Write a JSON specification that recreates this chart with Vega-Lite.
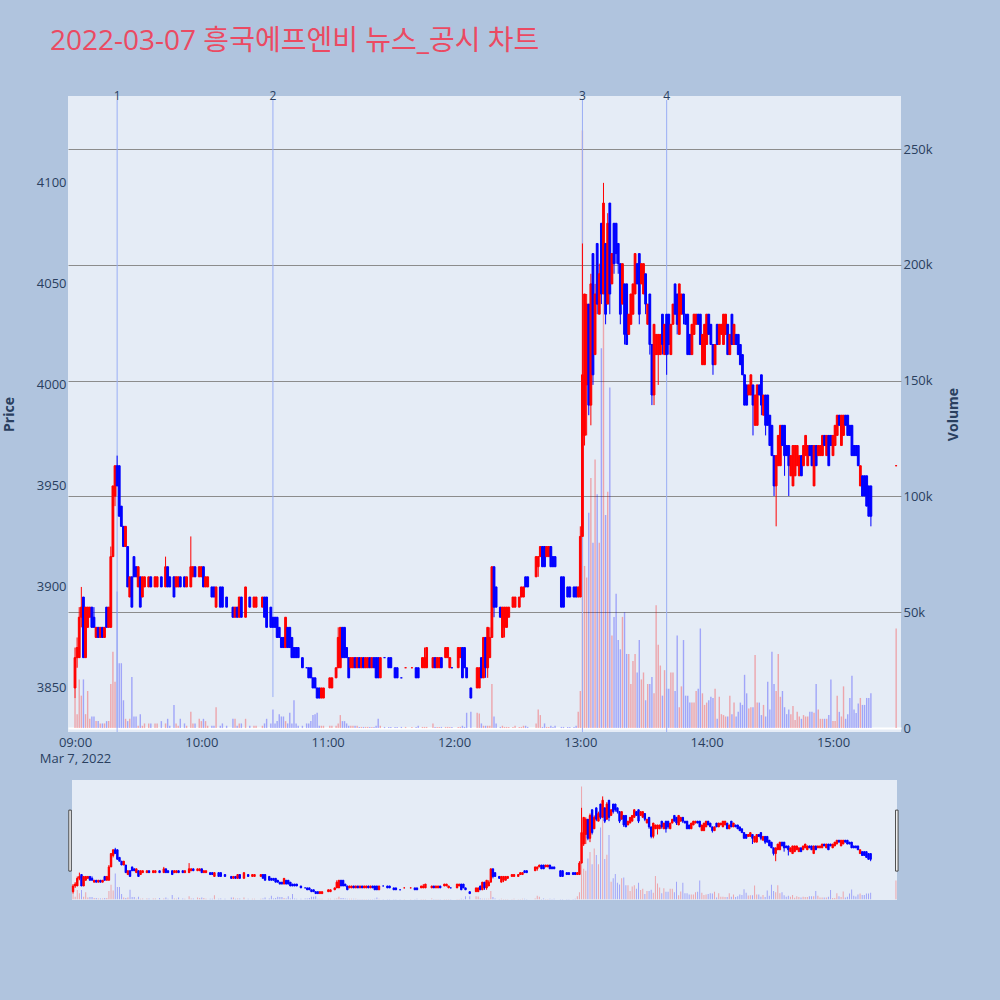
{
  "$schema": "https://vega.github.io/schema/vega-lite/v6.json",
  "background": "#B0C4DE",
  "padding": {"left": 2, "top": 28, "right": 45, "bottom": 110},
  "title": {
    "text": "2022-03-07 흥국에프엔비 뉴스_공시 차트",
    "anchor": "start",
    "font": "Open Sans, Noto Sans CJK KR",
    "fontSize": 28,
    "fontWeight": "normal",
    "color": "#EB4A62",
    "offset": 34,
    "dx": 48
  },
  "data": {"name": "k", "format": {"parse": {"t": "date:'%H:%M'"}}},
  "datasets": {
    "k": [
      {"t":"09:00","o":3850,"h":3870,"l":3845,"c":3865,"v":13000},
      {"t":"09:01","o":3865,"h":3875,"l":3860,"c":3870,"v":6000},
      {"t":"09:02","o":3865,"h":3890,"l":3865,"c":3885,"v":21000},
      {"t":"09:03","o":3885,"h":3900,"l":3880,"c":3890,"v":14000},
      {"t":"09:04","o":3895,"h":3895,"l":3865,"c":3865,"v":21000},
      {"t":"09:05","o":3865,"h":3890,"l":3865,"c":3890,"v":6000},
      {"t":"09:06","o":3880,"h":3890,"l":3880,"c":3890,"v":16000},
      {"t":"09:07","o":3885,"h":3890,"l":3885,"c":3890,"v":4000},
      {"t":"09:08","o":3890,"h":3890,"l":3880,"c":3880,"v":5000},
      {"t":"09:09","o":3885,"h":3890,"l":3880,"c":3880,"v":5000},
      {"t":"09:10","o":3875,"h":3880,"l":3875,"c":3880,"v":3000},
      {"t":"09:11","o":3880,"h":3880,"l":3875,"c":3875,"v":3000},
      {"t":"09:12","o":3875,"h":3880,"l":3875,"c":3880,"v":2000},
      {"t":"09:13","o":3880,"h":3880,"l":3875,"c":3875,"v":2000},
      {"t":"09:14","o":3875,"h":3880,"l":3875,"c":3880,"v":2000},
      {"t":"09:15","o":3890,"h":3890,"l":3880,"c":3880,"v":3000},
      {"t":"09:16","o":3880,"h":3890,"l":3880,"c":3890,"v":3000},
      {"t":"09:17","o":3880,"h":3920,"l":3880,"c":3915,"v":19000},
      {"t":"09:18","o":3915,"h":3950,"l":3915,"c":3950,"v":33000},
      {"t":"09:19","o":3945,"h":3960,"l":3940,"c":3960,"v":20000},
      {"t":"09:20","o":3960,"h":3965,"l":3950,"c":3950,"v":59000},
      {"t":"09:21","o":3960,"h":3960,"l":3935,"c":3935,"v":28000},
      {"t":"09:22","o":3940,"h":3940,"l":3930,"c":3930,"v":28000},
      {"t":"09:23","o":3930,"h":3930,"l":3920,"c":3920,"v":12000},
      {"t":"09:24","o":3920,"h":3930,"l":3920,"c":3930,"v":4000},
      {"t":"09:25","o":3920,"h":3920,"l":3900,"c":3900,"v":3000},
      {"t":"09:26","o":3895,"h":3905,"l":3895,"c":3905,"v":4000},
      {"t":"09:27","o":3905,"h":3905,"l":3890,"c":3890,"v":22000},
      {"t":"09:28","o":3915,"h":3915,"l":3905,"c":3905,"v":5000},
      {"t":"09:29","o":3910,"h":3910,"l":3905,"c":3905,"v":5000},
      {"t":"09:30","o":3900,"h":3910,"l":3900,"c":3910,"v":1000},
      {"t":"09:31","o":3905,"h":3905,"l":3890,"c":3890,"v":6000},
      {"t":"09:32","o":3895,"h":3905,"l":3895,"c":3905,"v":1000},
      {"t":"09:33","o":3900,"h":3905,"l":3900,"c":3905,"v":2000},
      {"t":"09:35","o":3900,"h":3905,"l":3900,"c":3905,"v":2000},
      {"t":"09:36","o":3905,"h":3905,"l":3900,"c":3900,"v":2000},
      {"t":"09:38","o":3900,"h":3905,"l":3900,"c":3905,"v":2000},
      {"t":"09:39","o":3900,"h":3905,"l":3900,"c":3905,"v":2000},
      {"t":"09:41","o":3905,"h":3905,"l":3900,"c":3900,"v":3000},
      {"t":"09:43","o":3900,"h":3915,"l":3900,"c":3910,"v":2000},
      {"t":"09:44","o":3910,"h":3910,"l":3900,"c":3900,"v":4000},
      {"t":"09:45","o":3905,"h":3905,"l":3900,"c":3900,"v":1000},
      {"t":"09:47","o":3905,"h":3905,"l":3895,"c":3895,"v":10000},
      {"t":"09:48","o":3900,"h":3905,"l":3900,"c":3905,"v":2000},
      {"t":"09:49","o":3900,"h":3905,"l":3900,"c":3905,"v":1000},
      {"t":"09:50","o":3905,"h":3905,"l":3900,"c":3900,"v":4000},
      {"t":"09:52","o":3905,"h":3905,"l":3900,"c":3900,"v":2000},
      {"t":"09:53","o":3900,"h":3905,"l":3900,"c":3905,"v":1000},
      {"t":"09:55","o":3900,"h":3925,"l":3900,"c":3910,"v":7000},
      {"t":"09:56","o":3905,"h":3910,"l":3905,"c":3910,"v":2000},
      {"t":"09:57","o":3910,"h":3910,"l":3905,"c":3905,"v":2000},
      {"t":"09:59","o":3905,"h":3910,"l":3905,"c":3910,"v":4000},
      {"t":"10:00","o":3905,"h":3910,"l":3905,"c":3910,"v":3000},
      {"t":"10:01","o":3910,"h":3910,"l":3900,"c":3900,"v":4000},
      {"t":"10:02","o":3900,"h":3905,"l":3900,"c":3905,"v":3000},
      {"t":"10:03","o":3900,"h":3905,"l":3900,"c":3905,"v":1000},
      {"t":"10:05","o":3900,"h":3900,"l":3895,"c":3895,"v":1000},
      {"t":"10:06","o":3900,"h":3900,"l":3895,"c":3895,"v":1000},
      {"t":"10:07","o":3890,"h":3900,"l":3890,"c":3900,"v":9000},
      {"t":"10:09","o":3900,"h":3900,"l":3890,"c":3890,"v":1000},
      {"t":"10:10","o":3900,"h":3900,"l":3890,"c":3890,"v":2000},
      {"t":"10:12","o":3895,"h":3895,"l":3890,"c":3890,"v":1000},
      {"t":"10:15","o":3890,"h":3890,"l":3885,"c":3885,"v":4000},
      {"t":"10:16","o":3885,"h":3890,"l":3885,"c":3890,"v":4000},
      {"t":"10:17","o":3890,"h":3890,"l":3885,"c":3885,"v":1000},
      {"t":"10:18","o":3885,"h":3895,"l":3885,"c":3895,"v":2000},
      {"t":"10:19","o":3895,"h":3895,"l":3885,"c":3885,"v":2000},
      {"t":"10:21","o":3885,"h":3900,"l":3885,"c":3900,"v":4000},
      {"t":"10:23","o":3895,"h":3895,"l":3890,"c":3890,"v":1000},
      {"t":"10:25","o":3890,"h":3895,"l":3890,"c":3895,"v":1000},
      {"t":"10:26","o":3890,"h":3895,"l":3890,"c":3895,"v":1000},
      {"t":"10:29","o":3890,"h":3895,"l":3890,"c":3895,"v":1000},
      {"t":"10:30","o":3895,"h":3895,"l":3885,"c":3885,"v":2000},
      {"t":"10:31","o":3895,"h":3895,"l":3880,"c":3880,"v":4000},
      {"t":"10:33","o":3890,"h":3890,"l":3880,"c":3880,"v":2000},
      {"t":"10:34","o":3885,"h":3885,"l":3880,"c":3880,"v":8000},
      {"t":"10:35","o":3885,"h":3885,"l":3880,"c":3880,"v":2000},
      {"t":"10:36","o":3885,"h":3885,"l":3875,"c":3875,"v":3000},
      {"t":"10:37","o":3880,"h":3880,"l":3875,"c":3875,"v":6000},
      {"t":"10:38","o":3875,"h":3875,"l":3870,"c":3870,"v":5000},
      {"t":"10:39","o":3875,"h":3875,"l":3870,"c":3870,"v":5000},
      {"t":"10:40","o":3870,"h":3885,"l":3870,"c":3885,"v":3000},
      {"t":"10:41","o":3880,"h":3880,"l":3870,"c":3870,"v":2000},
      {"t":"10:42","o":3880,"h":3880,"l":3870,"c":3870,"v":6600},
      {"t":"10:43","o":3875,"h":3875,"l":3865,"c":3865,"v":2000},
      {"t":"10:44","o":3870,"h":3870,"l":3865,"c":3865,"v":12000},
      {"t":"10:45","o":3870,"h":3870,"l":3865,"c":3865,"v":2000},
      {"t":"10:46","o":3870,"h":3870,"l":3865,"c":3865,"v":1000},
      {"t":"10:48","o":3865,"h":3865,"l":3860,"c":3860,"v":1000},
      {"t":"10:50","o":3860,"h":3860,"l":3860,"c":3860,"v":2000},
      {"t":"10:51","o":3860,"h":3860,"l":3855,"c":3855,"v":2000},
      {"t":"10:52","o":3860,"h":3860,"l":3855,"c":3855,"v":3000},
      {"t":"10:53","o":3855,"h":3855,"l":3850,"c":3850,"v":5600},
      {"t":"10:54","o":3855,"h":3855,"l":3850,"c":3850,"v":6000},
      {"t":"10:55","o":3850,"h":3850,"l":3845,"c":3845,"v":6600},
      {"t":"10:56","o":3850,"h":3850,"l":3845,"c":3845,"v":1000},
      {"t":"10:57","o":3845,"h":3850,"l":3845,"c":3850,"v":1000},
      {"t":"10:58","o":3845,"h":3850,"l":3845,"c":3850,"v":1000},
      {"t":"11:01","o":3850,"h":3855,"l":3850,"c":3855,"v":1000},
      {"t":"11:02","o":3850,"h":3855,"l":3850,"c":3855,"v":1000},
      {"t":"11:04","o":3855,"h":3860,"l":3855,"c":3860,"v":1000},
      {"t":"11:05","o":3860,"h":3880,"l":3860,"c":3875,"v":2000},
      {"t":"11:06","o":3860,"h":3880,"l":3860,"c":3880,"v":5600},
      {"t":"11:07","o":3880,"h":3880,"l":3865,"c":3865,"v":3000},
      {"t":"11:08","o":3880,"h":3880,"l":3865,"c":3865,"v":3000},
      {"t":"11:09","o":3870,"h":3870,"l":3865,"c":3865,"v":2000},
      {"t":"11:10","o":3865,"h":3865,"l":3855,"c":3855,"v":1000},
      {"t":"11:11","o":3860,"h":3865,"l":3860,"c":3865,"v":1000},
      {"t":"11:12","o":3860,"h":3865,"l":3860,"c":3865,"v":1000},
      {"t":"11:13","o":3865,"h":3865,"l":3860,"c":3860,"v":1000},
      {"t":"11:14","o":3860,"h":3865,"l":3860,"c":3865,"v":1000},
      {"t":"11:15","o":3865,"h":3865,"l":3860,"c":3860,"v":500},
      {"t":"11:16","o":3860,"h":3865,"l":3860,"c":3865,"v":500},
      {"t":"11:17","o":3865,"h":3865,"l":3860,"c":3860,"v":500},
      {"t":"11:18","o":3860,"h":3865,"l":3860,"c":3865,"v":500},
      {"t":"11:19","o":3860,"h":3865,"l":3860,"c":3865,"v":500},
      {"t":"11:20","o":3865,"h":3865,"l":3860,"c":3860,"v":500},
      {"t":"11:21","o":3860,"h":3865,"l":3860,"c":3865,"v":500},
      {"t":"11:22","o":3865,"h":3865,"l":3860,"c":3860,"v":500},
      {"t":"11:23","o":3865,"h":3865,"l":3855,"c":3855,"v":1000},
      {"t":"11:24","o":3865,"h":3865,"l":3855,"c":3855,"v":4000},
      {"t":"11:25","o":3855,"h":3865,"l":3855,"c":3865,"v":1000},
      {"t":"11:27","o":3865,"h":3865,"l":3865,"c":3865,"v":500},
      {"t":"11:29","o":3865,"h":3865,"l":3860,"c":3860,"v":500},
      {"t":"11:30","o":3865,"h":3865,"l":3860,"c":3860,"v":500},
      {"t":"11:32","o":3860,"h":3860,"l":3855,"c":3855,"v":500},
      {"t":"11:33","o":3860,"h":3860,"l":3855,"c":3855,"v":500},
      {"t":"11:35","o":3855,"h":3855,"l":3855,"c":3855,"v":500},
      {"t":"11:37","o":3860,"h":3860,"l":3860,"c":3860,"v":500,"up":true},
      {"t":"11:40","o":3860,"h":3860,"l":3860,"c":3860,"v":500,"up":true},
      {"t":"11:42","o":3860,"h":3860,"l":3855,"c":3855,"v":500},
      {"t":"11:43","o":3860,"h":3860,"l":3855,"c":3855,"v":1000},
      {"t":"11:45","o":3860,"h":3865,"l":3860,"c":3865,"v":500},
      {"t":"11:46","o":3860,"h":3870,"l":3860,"c":3865,"v":500},
      {"t":"11:47","o":3860,"h":3870,"l":3860,"c":3870,"v":500},
      {"t":"11:50","o":3860,"h":3865,"l":3860,"c":3865,"v":2000},
      {"t":"11:51","o":3865,"h":3865,"l":3860,"c":3860,"v":500},
      {"t":"11:52","o":3860,"h":3865,"l":3860,"c":3865,"v":500},
      {"t":"11:53","o":3860,"h":3865,"l":3860,"c":3865,"v":500},
      {"t":"11:54","o":3865,"h":3865,"l":3860,"c":3860,"v":500},
      {"t":"11:56","o":3865,"h":3870,"l":3865,"c":3870,"v":500},
      {"t":"11:57","o":3865,"h":3870,"l":3865,"c":3870,"v":500},
      {"t":"11:58","o":3860,"h":3865,"l":3860,"c":3865,"v":500},
      {"t":"11:59","o":3860,"h":3860,"l":3860,"c":3860,"v":500},
      {"t":"12:02","o":3860,"h":3870,"l":3860,"c":3870,"v":500},
      {"t":"12:03","o":3865,"h":3870,"l":3865,"c":3870,"v":500},
      {"t":"12:04","o":3870,"h":3870,"l":3855,"c":3855,"v":1000},
      {"t":"12:05","o":3870,"h":3870,"l":3860,"c":3860,"v":500},
      {"t":"12:06","o":3860,"h":3860,"l":3855,"c":3855,"v":6600},
      {"t":"12:08","o":3850,"h":3850,"l":3845,"c":3845,"v":7000},
      {"t":"12:11","o":3850,"h":3860,"l":3850,"c":3860,"v":6600},
      {"t":"12:12","o":3850,"h":3860,"l":3850,"c":3860,"v":6300},
      {"t":"12:13","o":3865,"h":3865,"l":3855,"c":3855,"v":2000},
      {"t":"12:14","o":3855,"h":3875,"l":3855,"c":3875,"v":1000},
      {"t":"12:15","o":3875,"h":3875,"l":3855,"c":3860,"v":1000},
      {"t":"12:16","o":3860,"h":3880,"l":3855,"c":3880,"v":1000},
      {"t":"12:17","o":3865,"h":3880,"l":3865,"c":3875,"v":1000},
      {"t":"12:18","o":3875,"h":3910,"l":3875,"c":3910,"v":19000},
      {"t":"12:19","o":3910,"h":3910,"l":3885,"c":3890,"v":5000},
      {"t":"12:20","o":3900,"h":3900,"l":3890,"c":3890,"v":2000},
      {"t":"12:22","o":3890,"h":3890,"l":3885,"c":3885,"v":500},
      {"t":"12:23","o":3875,"h":3890,"l":3875,"c":3890,"v":1000},
      {"t":"12:24","o":3880,"h":3890,"l":3875,"c":3890,"v":500},
      {"t":"12:25","o":3880,"h":3890,"l":3880,"c":3890,"v":500},
      {"t":"12:26","o":3885,"h":3890,"l":3885,"c":3890,"v":500},
      {"t":"12:28","o":3890,"h":3895,"l":3890,"c":3895,"v":500},
      {"t":"12:29","o":3890,"h":3895,"l":3890,"c":3895,"v":1000},
      {"t":"12:31","o":3890,"h":3895,"l":3890,"c":3895,"v":500},
      {"t":"12:32","o":3895,"h":3900,"l":3895,"c":3900,"v":500},
      {"t":"12:33","o":3895,"h":3900,"l":3895,"c":3900,"v":1000},
      {"t":"12:34","o":3905,"h":3905,"l":3900,"c":3900,"v":1000},
      {"t":"12:35","o":3905,"h":3905,"l":3900,"c":3900,"v":500},
      {"t":"12:39","o":3905,"h":3915,"l":3905,"c":3915,"v":2000},
      {"t":"12:40","o":3910,"h":3915,"l":3905,"c":3915,"v":8000},
      {"t":"12:41","o":3915,"h":3920,"l":3915,"c":3920,"v":5600},
      {"t":"12:42","o":3920,"h":3920,"l":3910,"c":3910,"v":500},
      {"t":"12:43","o":3920,"h":3920,"l":3910,"c":3910,"v":2000},
      {"t":"12:44","o":3915,"h":3920,"l":3915,"c":3920,"v":500},
      {"t":"12:45","o":3915,"h":3920,"l":3915,"c":3920,"v":500},
      {"t":"12:46","o":3920,"h":3920,"l":3910,"c":3910,"v":1000},
      {"t":"12:47","o":3915,"h":3915,"l":3910,"c":3910,"v":500},
      {"t":"12:48","o":3915,"h":3915,"l":3910,"c":3910,"v":1000},
      {"t":"12:51","o":3905,"h":3905,"l":3890,"c":3890,"v":500},
      {"t":"12:52","o":3905,"h":3905,"l":3890,"c":3890,"v":500},
      {"t":"12:54","o":3900,"h":3900,"l":3895,"c":3895,"v":500},
      {"t":"12:55","o":3900,"h":3900,"l":3895,"c":3895,"v":500},
      {"t":"12:57","o":3900,"h":3900,"l":3895,"c":3895,"v":500},
      {"t":"12:58","o":3900,"h":3900,"l":3895,"c":3895,"v":1000},
      {"t":"12:59","o":3895,"h":3900,"l":3895,"c":3900,"v":7000},
      {"t":"13:00","o":3895,"h":3930,"l":3895,"c":3925,"v":16000},
      {"t":"13:01","o":3925,"h":4070,"l":3925,"c":4005,"v":258000},
      {"t":"13:02","o":3975,"h":4045,"l":3970,"c":4045,"v":70000},
      {"t":"13:03","o":4000,"h":4045,"l":3975,"c":4040,"v":65000},
      {"t":"13:04","o":4040,"h":4040,"l":3985,"c":3990,"v":93000},
      {"t":"13:05","o":3990,"h":4055,"l":3980,"c":4050,"v":108000},
      {"t":"13:06","o":4065,"h":4065,"l":4000,"c":4005,"v":80000},
      {"t":"13:07","o":4015,"h":4050,"l":4015,"c":4045,"v":116000},
      {"t":"13:08","o":4070,"h":4070,"l":4035,"c":4040,"v":101000},
      {"t":"13:09","o":4035,"h":4060,"l":4035,"c":4055,"v":80000},
      {"t":"13:10","o":4080,"h":4080,"l":4040,"c":4045,"v":164000},
      {"t":"13:11","o":4045,"h":4100,"l":4045,"c":4090,"v":200000},
      {"t":"13:12","o":4070,"h":4070,"l":4030,"c":4035,"v":92000},
      {"t":"13:13","o":4040,"h":4085,"l":4040,"c":4080,"v":102000},
      {"t":"13:14","o":4090,"h":4090,"l":4035,"c":4045,"v":147000},
      {"t":"13:15","o":4050,"h":4065,"l":4050,"c":4065,"v":40000},
      {"t":"13:16","o":4080,"h":4080,"l":4055,"c":4060,"v":48000},
      {"t":"13:17","o":4080,"h":4080,"l":4060,"c":4065,"v":58000},
      {"t":"13:18","o":4070,"h":4070,"l":4055,"c":4060,"v":38000},
      {"t":"13:19","o":4060,"h":4060,"l":4030,"c":4035,"v":34000},
      {"t":"13:20","o":4040,"h":4060,"l":4040,"c":4060,"v":48000},
      {"t":"13:21","o":4050,"h":4050,"l":4020,"c":4025,"v":50000},
      {"t":"13:22","o":4050,"h":4050,"l":4020,"c":4020,"v":32000},
      {"t":"13:23","o":4025,"h":4035,"l":4025,"c":4035,"v":32000},
      {"t":"13:24","o":4030,"h":4045,"l":4030,"c":4045,"v":19000},
      {"t":"13:25","o":4035,"h":4050,"l":4035,"c":4050,"v":29000},
      {"t":"13:26","o":4045,"h":4065,"l":4045,"c":4065,"v":32000},
      {"t":"13:27","o":4060,"h":4060,"l":4050,"c":4050,"v":24000},
      {"t":"13:28","o":4065,"h":4065,"l":4030,"c":4035,"v":38000},
      {"t":"13:29","o":4050,"h":4060,"l":4050,"c":4060,"v":21000},
      {"t":"13:30","o":4045,"h":4060,"l":4045,"c":4060,"v":24000},
      {"t":"13:31","o":4055,"h":4055,"l":4035,"c":4040,"v":12000},
      {"t":"13:32","o":4030,"h":4040,"l":4030,"c":4040,"v":19000},
      {"t":"13:33","o":4045,"h":4045,"l":4015,"c":4020,"v":19000},
      {"t":"13:34","o":4020,"h":4020,"l":3990,"c":3995,"v":22000},
      {"t":"13:35","o":3995,"h":4030,"l":3990,"c":4030,"v":15000},
      {"t":"13:36","o":4015,"h":4025,"l":4015,"c":4025,"v":53000},
      {"t":"13:37","o":4015,"h":4025,"l":4000,"c":4025,"v":36000},
      {"t":"13:38","o":4015,"h":4025,"l":4015,"c":4025,"v":27000},
      {"t":"13:39","o":4035,"h":4035,"l":4015,"c":4020,"v":14000},
      {"t":"13:40","o":4015,"h":4030,"l":4015,"c":4030,"v":25000},
      {"t":"13:41","o":4035,"h":4035,"l":4005,"c":4015,"v":17000},
      {"t":"13:42","o":4035,"h":4035,"l":4015,"c":4020,"v":17000},
      {"t":"13:43","o":4015,"h":4030,"l":4015,"c":4030,"v":24000},
      {"t":"13:44","o":4030,"h":4040,"l":4030,"c":4040,"v":24000},
      {"t":"13:45","o":4050,"h":4050,"l":4035,"c":4035,"v":16000},
      {"t":"13:46","o":4045,"h":4045,"l":4025,"c":4030,"v":40000},
      {"t":"13:47","o":4025,"h":4050,"l":4025,"c":4050,"v":9000},
      {"t":"13:48","o":4035,"h":4045,"l":4035,"c":4045,"v":18000},
      {"t":"13:49","o":4045,"h":4045,"l":4030,"c":4035,"v":38000},
      {"t":"13:50","o":4035,"h":4035,"l":4030,"c":4030,"v":14000},
      {"t":"13:51","o":4035,"h":4035,"l":4015,"c":4015,"v":14000},
      {"t":"13:52","o":4025,"h":4025,"l":4015,"c":4015,"v":11000},
      {"t":"13:53","o":4015,"h":4030,"l":4015,"c":4030,"v":11000},
      {"t":"13:54","o":4025,"h":4035,"l":4025,"c":4035,"v":11000},
      {"t":"13:55","o":4030,"h":4035,"l":4030,"c":4035,"v":16000},
      {"t":"13:56","o":4035,"h":4035,"l":4030,"c":4030,"v":17000},
      {"t":"13:57","o":4035,"h":4035,"l":4020,"c":4020,"v":43000},
      {"t":"13:58","o":4010,"h":4025,"l":4010,"c":4025,"v":15000},
      {"t":"13:59","o":4010,"h":4030,"l":4010,"c":4030,"v":10000},
      {"t":"14:00","o":4020,"h":4035,"l":4020,"c":4035,"v":11000},
      {"t":"14:01","o":4035,"h":4035,"l":4025,"c":4025,"v":12000},
      {"t":"14:02","o":4030,"h":4030,"l":4020,"c":4020,"v":13500},
      {"t":"14:03","o":4020,"h":4020,"l":4005,"c":4010,"v":13000},
      {"t":"14:04","o":4010,"h":4020,"l":4010,"c":4020,"v":17000},
      {"t":"14:05","o":4030,"h":4030,"l":4020,"c":4020,"v":4000},
      {"t":"14:06","o":4020,"h":4030,"l":4020,"c":4030,"v":13500},
      {"t":"14:07","o":4025,"h":4030,"l":4025,"c":4030,"v":6000},
      {"t":"14:08","o":4020,"h":4035,"l":4020,"c":4035,"v":5600},
      {"t":"14:09","o":4025,"h":4035,"l":4025,"c":4035,"v":5000},
      {"t":"14:10","o":4030,"h":4030,"l":4015,"c":4015,"v":5000},
      {"t":"14:11","o":4015,"h":4025,"l":4015,"c":4025,"v":14000},
      {"t":"14:12","o":4035,"h":4035,"l":4020,"c":4020,"v":6000},
      {"t":"14:13","o":4020,"h":4030,"l":4020,"c":4030,"v":11000},
      {"t":"14:14","o":4025,"h":4025,"l":4020,"c":4020,"v":5000},
      {"t":"14:15","o":4025,"h":4025,"l":4015,"c":4015,"v":7000},
      {"t":"14:16","o":4020,"h":4020,"l":4010,"c":4010,"v":11000},
      {"t":"14:17","o":4015,"h":4015,"l":4005,"c":4005,"v":10000},
      {"t":"14:18","o":4005,"h":4005,"l":3990,"c":3990,"v":23000},
      {"t":"14:19","o":4000,"h":4000,"l":3990,"c":3990,"v":15000},
      {"t":"14:20","o":3995,"h":4000,"l":3995,"c":4000,"v":8500},
      {"t":"14:21","o":3995,"h":4005,"l":3995,"c":4005,"v":9000},
      {"t":"14:22","o":4000,"h":4000,"l":3975,"c":3990,"v":9000},
      {"t":"14:23","o":3980,"h":3995,"l":3980,"c":3995,"v":31500},
      {"t":"14:24","o":3980,"h":4000,"l":3980,"c":4000,"v":11000},
      {"t":"14:25","o":4000,"h":4000,"l":3995,"c":3995,"v":11000},
      {"t":"14:26","o":4005,"h":4005,"l":3985,"c":3990,"v":5600},
      {"t":"14:27","o":3985,"h":3995,"l":3985,"c":3995,"v":10000},
      {"t":"14:28","o":3995,"h":3995,"l":3975,"c":3980,"v":5000},
      {"t":"14:29","o":3995,"h":3995,"l":3980,"c":3980,"v":20000},
      {"t":"14:30","o":3985,"h":3985,"l":3970,"c":3970,"v":8000},
      {"t":"14:31","o":3980,"h":3980,"l":3965,"c":3965,"v":33000},
      {"t":"14:32","o":3965,"h":3965,"l":3945,"c":3950,"v":19000},
      {"t":"14:33","o":3950,"h":3965,"l":3930,"c":3965,"v":16000},
      {"t":"14:34","o":3960,"h":3975,"l":3960,"c":3975,"v":32000},
      {"t":"14:35","o":3960,"h":3980,"l":3960,"c":3980,"v":13500},
      {"t":"14:36","o":3980,"h":3980,"l":3970,"c":3970,"v":16000},
      {"t":"14:37","o":3980,"h":3980,"l":3955,"c":3965,"v":9000},
      {"t":"14:38","o":3970,"h":3970,"l":3965,"c":3965,"v":6000},
      {"t":"14:39","o":3970,"h":3970,"l":3945,"c":3960,"v":8000},
      {"t":"14:40","o":3955,"h":3965,"l":3955,"c":3965,"v":6000},
      {"t":"14:41","o":3950,"h":3970,"l":3950,"c":3970,"v":9500},
      {"t":"14:42","o":3955,"h":3970,"l":3955,"c":3970,"v":3500},
      {"t":"14:43","o":3960,"h":3970,"l":3960,"c":3970,"v":7000},
      {"t":"14:44","o":3955,"h":3965,"l":3955,"c":3965,"v":5000},
      {"t":"14:45","o":3965,"h":3965,"l":3955,"c":3955,"v":4000},
      {"t":"14:46","o":3960,"h":3970,"l":3960,"c":3970,"v":5600},
      {"t":"14:47","o":3965,"h":3975,"l":3965,"c":3975,"v":5000},
      {"t":"14:48","o":3960,"h":3970,"l":3960,"c":3970,"v":5000},
      {"t":"14:49","o":3970,"h":3970,"l":3965,"c":3965,"v":7000},
      {"t":"14:50","o":3970,"h":3970,"l":3960,"c":3960,"v":7000},
      {"t":"14:51","o":3950,"h":3970,"l":3950,"c":3970,"v":6600},
      {"t":"14:52","o":3970,"h":3970,"l":3960,"c":3960,"v":19000},
      {"t":"14:53","o":3965,"h":3970,"l":3965,"c":3970,"v":8000},
      {"t":"14:54","o":3965,"h":3970,"l":3965,"c":3970,"v":4000},
      {"t":"14:55","o":3965,"h":3975,"l":3965,"c":3975,"v":4000},
      {"t":"14:56","o":3975,"h":3975,"l":3970,"c":3970,"v":4000},
      {"t":"14:57","o":3965,"h":3975,"l":3965,"c":3975,"v":4000},
      {"t":"14:58","o":3975,"h":3975,"l":3960,"c":3960,"v":5600},
      {"t":"14:59","o":3975,"h":3975,"l":3970,"c":3970,"v":21000},
      {"t":"15:00","o":3965,"h":3975,"l":3965,"c":3975,"v":3000},
      {"t":"15:01","o":3970,"h":3980,"l":3970,"c":3980,"v":3000},
      {"t":"15:02","o":3975,"h":3985,"l":3975,"c":3985,"v":14000},
      {"t":"15:03","o":3985,"h":3985,"l":3980,"c":3980,"v":7000},
      {"t":"15:04","o":3970,"h":3985,"l":3970,"c":3985,"v":5000},
      {"t":"15:05","o":3975,"h":3985,"l":3975,"c":3985,"v":18000},
      {"t":"15:06","o":3985,"h":3985,"l":3980,"c":3980,"v":4000},
      {"t":"15:07","o":3985,"h":3985,"l":3975,"c":3975,"v":6000},
      {"t":"15:08","o":3980,"h":3980,"l":3975,"c":3975,"v":13000},
      {"t":"15:09","o":3980,"h":3980,"l":3965,"c":3965,"v":22600},
      {"t":"15:10","o":3970,"h":3970,"l":3965,"c":3965,"v":8000},
      {"t":"15:11","o":3970,"h":3970,"l":3965,"c":3965,"v":6500},
      {"t":"15:12","o":3970,"h":3970,"l":3960,"c":3960,"v":10600},
      {"t":"15:13","o":3950,"h":3960,"l":3950,"c":3960,"v":13000},
      {"t":"15:14","o":3955,"h":3955,"l":3945,"c":3945,"v":10000},
      {"t":"15:15","o":3955,"h":3955,"l":3945,"c":3945,"v":10000},
      {"t":"15:16","o":3955,"h":3955,"l":3940,"c":3940,"v":13000},
      {"t":"15:17","o":3950,"h":3950,"l":3935,"c":3935,"v":13000},
      {"t":"15:18","o":3950,"h":3950,"l":3930,"c":3935,"v":15000},
      {"t":"15:30","o":3960,"h":3960,"l":3960,"c":3960,"v":43000,"up":true}
    ],
    "ev": [
      {"t":"09:20","n":"1","lo":3828.2},
      {"t":"10:34","n":"2","lo":3845.5},
      {"t":"13:01","n":"3","lo":3828.2},
      {"t":"13:41","n":"4","lo":3828.2}
    ],
    "grip": [
      {"t":"08:58:00","t2":"08:59:10"},
      {"t":"15:29:50","t2":"15:31:00"}
    ]
  },
  "vconcat": [
    {
      "width": 833,
      "height": 636,
      "encoding": {
        "x": {
          "field": "t",
          "type": "temporal",
          "scale": {"nice": false, "padding": 0, "domain": [
            {"year":1900,"month":1,"date":1,"hours":8,"minutes":56,"seconds":40},
            {"year":1900,"month":1,"date":1,"hours":15,"minutes":32,"seconds":18}
          ]},
          "axis": {
            "values": [
              {"year":1900,"month":1,"date":1,"hours":9},
              {"year":1900,"month":1,"date":1,"hours":10},
              {"year":1900,"month":1,"date":1,"hours":11},
              {"year":1900,"month":1,"date":1,"hours":12},
              {"year":1900,"month":1,"date":1,"hours":13},
              {"year":1900,"month":1,"date":1,"hours":14},
              {"year":1900,"month":1,"date":1,"hours":15}
            ],
            "labelExpr": "hours(datum.value) == 9 ? ['09:00', 'Mar 7, 2022'] : timeFormat(datum.value, '%H:%M')",
            "title": null,
            "grid": false,
            "domain": false,
            "ticks": false,
            "labelPadding": 4,
            "labelColor": "#2a3f5f",
            "labelFont": "Open Sans",
            "labelFontSize": 13,
            "labelLineHeight": 16,
            "labelOverlap": false,
            "labelFlush": false
          }
        }
      },
      "layer": [
        {
          "mark": {"type": "bar", "size": 1.4, "opacity": 0.3},
          "encoding": {
            "y": {
              "field": "v",
              "type": "quantitative",
              "scale": {"domain": [-1700, 272900], "nice": false, "zero": false},
              "axis": {
                "orient": "right",
                "values": [0, 50000, 100000, 150000, 200000, 250000],
                "labelExpr": "datum.value == 0 ? '0' : format(datum.value / 1000, 'd') + 'k'",
                "domain": false,
                "ticks": false,
                "labelPadding": 2,
                "labelColor": "#2a3f5f",
                "labelFont": "Open Sans",
                "labelFontSize": 13,
                "gridColor": {"condition": {"test": "datum.value === 0", "value": "#FFFFFF"}, "value": "#8C8C8C"},
                "gridWidth": {"condition": {"test": "datum.value === 0", "value": 2}, "value": 1.2},
                "title": "Volume",
                "titleFont": "Open Sans",
                "titleFontSize": 14,
                "titleFontWeight": "bold",
                "titleColor": "#2a3f5f",
                "titleAngle": 270,
                "titleX": 52,
                "titleY": 318,
                "titleAlign": "center",
                "titleBaseline": "middle"
              }
            },
            "color": {"condition": {"test": "datum.c > datum.o || datum.up", "value": "#FF0000"}, "value": "#0000FF"}
          }
        },
        {
          "encoding": {
            "y": {
              "field": "l",
              "type": "quantitative",
              "scale": {"domain": [3828.2, 4143], "nice": false, "zero": false},
              "axis": {
                "orient": "left",
                "values": [3850, 3900, 3950, 4000, 4050, 4100],
                "format": "d",
                "gridColor": "#FFFFFF",
                "gridWidth": 1,
                "domain": false,
                "ticks": false,
                "labelPadding": 2,
                "labelColor": "#2a3f5f",
                "labelFont": "Open Sans",
                "labelFontSize": 13,
                "title": "Price",
                "titleFont": "Open Sans",
                "titleFontSize": 14,
                "titleFontWeight": "bold",
                "titleColor": "#2a3f5f",
                "titleAngle": 270,
                "titleX": -59,
                "titleY": 318,
                "titleAlign": "center",
                "titleBaseline": "middle"
              }
            },
            "color": {"condition": {"test": "datum.c > datum.o || datum.up", "value": "#FF0000"}, "value": "#0000FF"}
          },
          "layer": [
            {
              "data": {"name": "ev", "format": {"parse": {"t": "date:'%H:%M'"}}},
              "mark": {"type": "rule", "strokeWidth": 1},
              "encoding": {
                "y": {"field": "lo", "type": "quantitative"},
                "y2": {"datum": 4141},
                "color": {"value": "#9AAEF5"}
              }
            },
            {
              "mark": {"type": "rule", "strokeWidth": 1},
              "encoding": {
                "y2": {"field": "h"}
              }
            },
            {
              "mark": {"type": "bar", "size": 1.8, "strokeWidth": 1},
              "encoding": {
                "y": {"field": "o", "type": "quantitative"},
                "y2": {"field": "c"},
                "stroke": {"condition": {"test": "datum.c > datum.o || datum.up", "value": "#FF0000"}, "value": "#0000FF"}
              }
            }
          ]
        },
        {
          "data": {"name": "ev", "format": {"parse": {"t": "date:'%H:%M'"}}},
          "mark": {"type": "text", "fontSize": 12, "font": "Open Sans", "baseline": "middle", "align": "center", "color": "#2a3f5f"},
          "encoding": {
            "y": {"datum": 4143, "type": "quantitative", "scale": {"domain": [3828.2, 4143], "nice": false, "zero": false}, "axis": null},
            "text": {"field": "n", "type": "nominal"}
          }
        }
      ],
      "resolve": {"scale": {"y": "independent"}}
    },
    {
      "width": 825,
      "height": 120,
      "encoding": {
        "x": {
          "field": "t",
          "type": "temporal",
          "scale": {"nice": false, "padding": 0, "domain": [
            {"year":1900,"month":1,"date":1,"hours":8,"minutes":59,"seconds":30},
            {"year":1900,"month":1,"date":1,"hours":15,"minutes":30,"seconds":30}
          ]},
          "axis": null
        }
      },
      "layer": [
        {
          "mark": {"type": "bar", "size": 1, "opacity": 0.3},
          "encoding": {
            "y": {"field": "v", "type": "quantitative", "scale": {"domain": [-1700, 272900], "nice": false, "zero": false}, "axis": null},
            "color": {"condition": {"test": "datum.c > datum.o || datum.up", "value": "#FF0000"}, "value": "#0000FF"}
          }
        },
        {
          "encoding": {
            "y": {"field": "l", "type": "quantitative", "scale": {"domain": [3828.2, 4143], "nice": false, "zero": false}, "axis": null}
          },
          "layer": [
            {
              "mark": {"type": "rule", "strokeWidth": 1},
              "encoding": {
                "y2": {"field": "h"},
                "color": {"condition": {"test": "datum.c > datum.o || datum.up", "value": "#FF0000"}, "value": "#0000FF"}
              }
            },
            {
              "mark": {"type": "bar", "size": 1.4, "strokeWidth": 1},
              "encoding": {
                "y": {"field": "o", "type": "quantitative"},
                "y2": {"field": "c"},
                "color": {"condition": {"test": "datum.c > datum.o || datum.up", "value": "#FF0000"}, "value": "#0000FF"},
                "stroke": {"condition": {"test": "datum.c > datum.o || datum.up", "value": "#FF0000"}, "value": "#0000FF"}
              }
            }
          ]
        },
        {
          "data": {"name": "grip", "format": {"parse": {"t": "date:'%H:%M:%S'", "t2": "date:'%H:%M:%S'"}}},
          "mark": {"type": "rect", "fill": "#FFFFFF", "stroke": "#444444", "strokeWidth": 1, "clip": false},
          "encoding": {
            "x2": {"field": "t2"},
            "y": {"datum": 3904, "type": "quantitative", "scale": {"domain": [3828.2, 4143], "nice": false, "zero": false}, "axis": null},
            "y2": {"datum": 4064}
          }
        }
      ],
      "resolve": {"scale": {"y": "independent"}}
    }
  ],
  "spacing": 48,
  "bounds": "flush",
  "center": true,
  "config": {
    "view": {"fill": "#E5ECF6", "stroke": null},
    "font": "Open Sans"
  }
}
